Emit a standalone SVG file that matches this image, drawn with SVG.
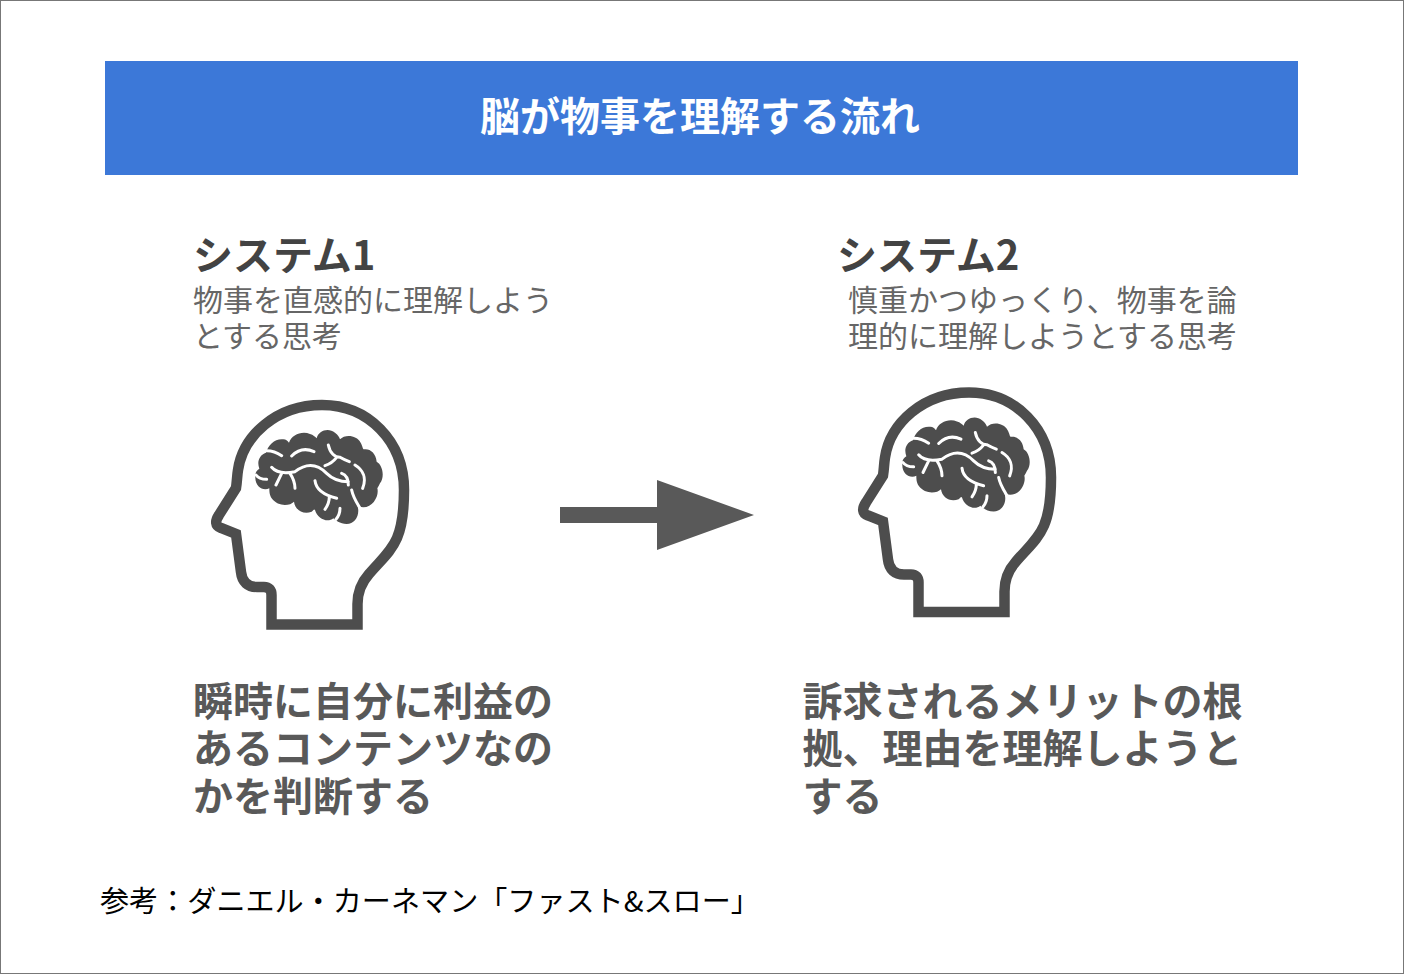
<svg xmlns="http://www.w3.org/2000/svg" xmlns:xlink="http://www.w3.org/1999/xlink" width="1404" height="974" viewBox="0 0 1404 974">
<style>
text{font-family:"Noto Sans CJK JP","Noto Sans CJK SC",sans-serif}
.title{font-size:40px;font-weight:700;fill:#fff;text-anchor:middle}
.head{font-size:40px;font-weight:700;fill:#434343}
.sub{font-size:30px;font-weight:400;fill:#666}
.body{font-size:40px;font-weight:700;fill:#595959}
.foot{font-size:29.1px;fill:#000}
.outline{fill:none;stroke:#4d4d4d;stroke-width:10.500;stroke-linejoin:miter}
.sulci{fill:none;stroke:#fff;stroke-width:9;stroke-linecap:round}
</style>
<defs>
<g id="headIcon">
<path class="outline" d="M271.500 624.500H357.500V604C357.500 592 361 583 369 574C381 560 391 552 397 538C403 524 404 508 404 490C404 441 368 405 322 405C276 405 243 436 238 470C237 476 237 482 236 488L219 515C215 521 215 526 221 528L236 534L241 572C242 582 248 587 257 587H264C269 587 271.500 590 271.500 595Z"/>
<g transform="translate(240 420) scale(.3333)">
<path fill="#4d4d4d" d="M46 172C44 160 50 150 58 146C50 125 58 105 78 98C85 75 105 55 130 58C138 58 142 62 147 68C155 45 185 32 210 42C220 45 225 50 230 55C235 32 265 22 285 38C295 45 298 52 300 58C315 42 350 45 362 68C368 78 368 88 372 88C390 85 408 100 410 125C428 135 435 170 420 190C418 195 415 200 412 205C418 225 400 262 370 262C360 262 355 258 352 255C362 285 345 312 320 312C300 312 285 300 280 295C262 310 232 295 225 270C222 265 220 272 215 275C190 285 165 270 162 245C150 258 115 262 95 235C88 225 88 212 88 205C70 215 45 200 46 172Z"/>
<path class="sulci" d="M95 142C110 160 140 160 165 155C200 128 230 130 260 160C280 180 300 185 325 185M125 160L108 195M150 160C160 175 165 190 165 205M80 92C100 92 115 100 125 107M155 108C175 88 200 85 222 95M265 75C270 100 285 112 300 112C310 118 320 122 328 125M290 112C280 125 270 132 255 137M345 135C370 150 380 175 368 205M225 182C228 210 250 225 290 235M268 230C268 245 262 258 255 268M335 210C340 235 355 255 362 268M305 160C320 165 325 175 325 195M48 165C55 175 70 178 80 178M300 265C300 280 295 290 288 298"/>
</g>
</g>
</defs>
<rect id="frame" x=".5" y=".5" width="1403" height="973" fill="#fff" stroke="#777"/>
<g id="title"><rect x="105" y="61" width="1193" height="114" fill="#3c78d8"/><text class="title" x="700" y="130.500">脳が物事を理解する流れ</text></g>
<g id="system1">
<text class="head" x="193" y="270">システム1</text>
<text class="sub"><tspan x="193" y="311">物事を直感的に理解しよう</tspan><tspan x="193" y="347">とする思考</tspan></text>
<use id="head1" xlink:href="#headIcon" href="#headIcon"/>
<text class="body"><tspan x="193" y="716">瞬時に自分に利益の</tspan><tspan x="193" y="763">あるコンテンツなの</tspan><tspan x="193" y="811">かを判断する</tspan></text>
</g>
<g id="system2">
<text class="head" x="837" y="270">システム2</text>
<text class="sub"><tspan x="848" y="311">慎重かつゆっくり、物事を論</tspan><tspan x="848" y="347">理的に理解しようとする思考</tspan></text>
<use id="head2" xlink:href="#headIcon" href="#headIcon" transform="translate(647 -12.500)"/>
<text class="body"><tspan x="802.500" y="716">訴求されるメリットの根</tspan><tspan x="802.500" y="763">拠、理由を理解しようと</tspan><tspan x="802.500" y="811">する</tspan></text>
</g>
<g id="connectors"><path d="M560 507H657V480L754 515L657 550V523H560Z" fill="#595959"/></g>
<g id="source"><text class="foot" x="100" y="912">参考：ダニエル・カーネマン「ファスト&amp;スロー」</text></g>
</svg>
